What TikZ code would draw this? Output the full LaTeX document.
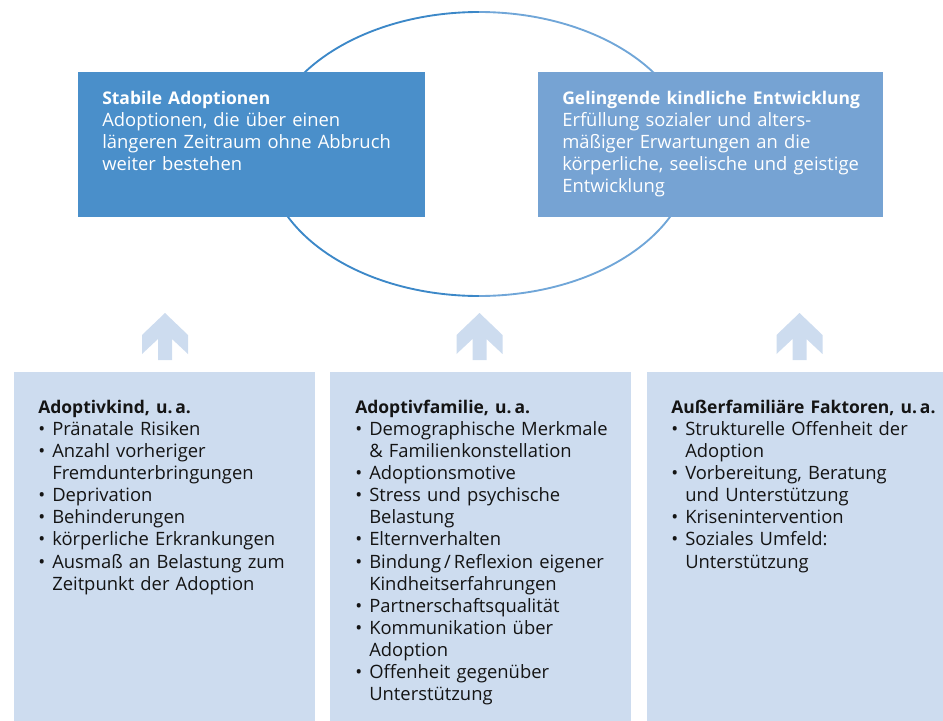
\documentclass[tikz,border=0pt]{standalone}
\usepackage{fontspec}
\setmainfont{Open Sans}
\newfontfamily\headfont{Open Sans}[Scale=0.95]
\definecolor{boxA}{RGB}{74,143,202}
\definecolor{boxB}{RGB}{118,163,211}
\definecolor{boxC}{RGB}{205,220,239}
\definecolor{ellA}{RGB}{60,136,200}
\definecolor{ellB}{RGB}{112,166,216}
\definecolor{txtdark}{RGB}{20,20,20}
\def\PX{0.75pt}
\newcommand\hd[1]{{\headfont\bfseries #1}}
\newcommand\nl{\hfil\break}
\newcommand\bitem[1]{\par\hangindent=10.5pt\hangafter=1\noindent\makebox[10.5pt][l]{•}#1\par}
\begin{document}
\begin{tikzpicture}[x=0.75pt,y=-0.75pt,
  panel/.style={rectangle, draw=none, inner sep=0pt, outer sep=0pt, anchor=north west},
  toptext/.style={anchor=north west, inner sep=0pt, text width=340*\PX, align=left, text=white,
     font=\fontsize{13.8}{16.5}\selectfont},
  bottext/.style={anchor=north west, inner sep=0pt, text width=300*\PX, align=left, text=txtdark,
     font=\fontsize{13.8}{16.6}\selectfont},
  upfill/.style={fill=boxC, draw=none}
]
\useasboundingbox (0,0) rectangle (943,721);
% ellipse (cycle) behind the boxes
\draw[ellA, line width=1.4pt] (479,12) arc[start angle=90, end angle=270, x radius=213*\PX, y radius=142*\PX];
\draw[ellB, line width=1.4pt] (479,296) arc[start angle=270, end angle=450, x radius=213*\PX, y radius=142*\PX];
% top boxes
\node[panel, fill=boxA, minimum width=347*\PX, minimum height=145*\PX] (stab) at (78,72) {};
\node[panel, fill=boxB, minimum width=345*\PX, minimum height=145*\PX] (geling) at (538,72) {};
\node[toptext] (stabtxt) at (102,89.3) {\strut\hd{Stabile Adoptionen}\\
Adoptionen, die über einen\\
längeren Zeitraum ohne Abbruch\\
weiter bestehen};
\node[toptext] (gelingtxt) at (562,89.3) {\strut\hd{Gelingende kindliche Entwicklung}\\
Erfüllung sozialer und alters-\\
mäßiger Erwartungen an die\\
körperliche, seelische und geistige\\
Entwicklung};
% up arrows
\foreach \cx in {165,479.5,799.5}{
  \fill[upfill] (\cx,313) -- ++(23,22) -- ++(0,19) -- ++(-16,-15) -- ++(0,21) -- ++(-14,0)
    -- ++(0,-21) -- ++(-16,15) -- ++(0,-19) -- cycle;
}
% bottom boxes
\node[panel, fill=boxC, minimum width=301*\PX, minimum height=349*\PX] (kind) at (14,372) {};
\node[panel, fill=boxC, minimum width=301*\PX, minimum height=349*\PX] (familie) at (330,372) {};
\node[panel, fill=boxC, minimum width=296*\PX, minimum height=349*\PX] (ausser) at (647,372) {};
\node[bottext] (kindtxt) at (38,397.4) {\strut\hd{Adoptivkind, u.\,a.}
\bitem{Pränatale Risiken}
\bitem{Anzahl vorheriger\nl Fremdunterbringungen}
\bitem{Deprivation}
\bitem{Behinderungen}
\bitem{körperliche Erkrankungen}
\bitem{Ausmaß an Belastung zum\nl Zeitpunkt der Adoption}};
\node[bottext] (familietxt) at (355,397.4) {\strut\hd{Adoptivfamilie, u.\,a.}
\bitem{Demographische Merkmale\nl \& Familienkonstellation}
\bitem{Adoptionsmotive}
\bitem{Stress und psychische\nl Belastung}
\bitem{Elternverhalten}
\bitem{Bindung\,/\,Reflexion eigener\nl Kindheitserfahrungen}
\bitem{Partnerschaftsqualität}
\bitem{Kommunikation über\nl Adoption}
\bitem{Offenheit gegenüber\nl Unterstützung}};
\node[bottext] (aussertxt) at (671,397.4) {\strut\hd{Außerfamiliäre Faktoren, u.\,a.}
\bitem{Strukturelle Offenheit der\nl Adoption}
\bitem{Vorbereitung, Beratung\nl und Unterstützung}
\bitem{Krisenintervention}
\bitem{Soziales Umfeld:\nl Unterstützung}};
\end{tikzpicture}
\end{document}
